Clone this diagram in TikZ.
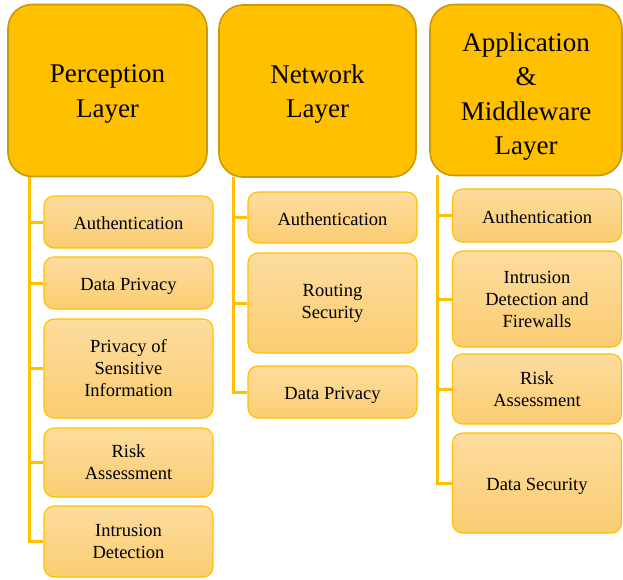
\documentclass[tikz,border=0pt]{standalone}
\usepackage{fontspec}
\setmainfont{Liberation Serif}
\usepackage{tikz}
\usetikzlibrary{calc}
\usepackage{xcolor}
\definecolor{LayerGold}{HTML}{FFC000}
\definecolor{LayerEdge}{HTML}{C99A06}
\definecolor{ItemTop}{HTML}{FDDC9E}
\definecolor{ItemBot}{HTML}{FBCD72}
\newcommand{\toppad}[1]{\rule{0pt}{#1}}

\begin{document}
\begin{tikzpicture}[x=1pt, y=-1pt,
    layer/.style={draw=LayerEdge, line width=1.6pt, fill=LayerGold, rounded corners=24pt,
      align=center, inner sep=0pt, font=\fontsize{27}{34.5}\selectfont},
    item/.style={draw=LayerGold, line width=1.1pt, top color=ItemTop, bottom color=ItemBot,
      rounded corners=10pt, align=center, inner sep=0pt, minimum width=169pt,
      font=\fontsize{18.5}{22}\selectfont},
    branch/.style={LayerGold, line width=3pt}]
  \useasboundingbox (0,0) rectangle (623,579);
  % layers
  \node[layer, minimum width=199pt, minimum height=172pt] (perc) at (107.5,90.5) {\toppad{25pt}Perception\\Layer};
  \node[layer, minimum width=197pt, minimum height=172pt] (netw) at (317.5,91) {\toppad{25pt}Network\\Layer};
  \node[layer, minimum width=192pt, minimum height=171pt] (appl) at (526,90) {\toppad{32pt}Application\\\&\\Middleware\\Layer};
  % perception items
  \node[item, minimum height=52pt] (pa) at (128.5,222) {\toppad{16pt}Authentication};
  \node[item, minimum height=52pt] (pb) at (128.5,283) {\toppad{18pt}Data Privacy};
  \node[item, minimum height=99pt] (pc) at (128.5,368.5) {Privacy of\\Sensitive\\Information};
  \node[item, minimum height=69pt] (pd) at (128.5,462.5) {Risk\\Assessment};
  \node[item, minimum height=71pt] (pe) at (128.5,541.5) {Intrusion\\Detection};
  % network items
  \node[item, minimum height=51pt] (na) at (332.5,217.5) {\toppad{16pt}Authentication};
  \node[item, minimum height=100pt] (nb) at (332.5,303) {Routing\\Security};
  \node[item, minimum height=52pt] (nc) at (332.5,392) {\toppad{18pt}Data Privacy};
  % application items
  \node[item, minimum height=53pt] (aa) at (537,215.5) {\toppad{16pt}Authentication};
  \node[item, minimum height=96pt] (ab) at (537,299) {Intrusion\\Detection and\\Firewalls};
  \node[item, minimum height=70pt] (ac) at (537,389) {Risk\\Assessment};
  \node[item, minimum height=100pt] (ad) at (537,483) {\toppad{18pt}Data Security};
  % trunks
  \coordinate (p0) at (29,177);
  \coordinate (n0) at (233,177);
  \coordinate (a0) at (437,175);
  \foreach \b in {pa,pb,pc,pd,pe}
    \draw[branch] (p0) |- (\b.west);
  \foreach \b in {na,nb,nc}
    \draw[branch] (n0) |- (\b.west);
  \foreach \b in {aa,ab,ac,ad}
    \draw[branch] (a0) |- (\b.west);
\end{tikzpicture}
\end{document}
